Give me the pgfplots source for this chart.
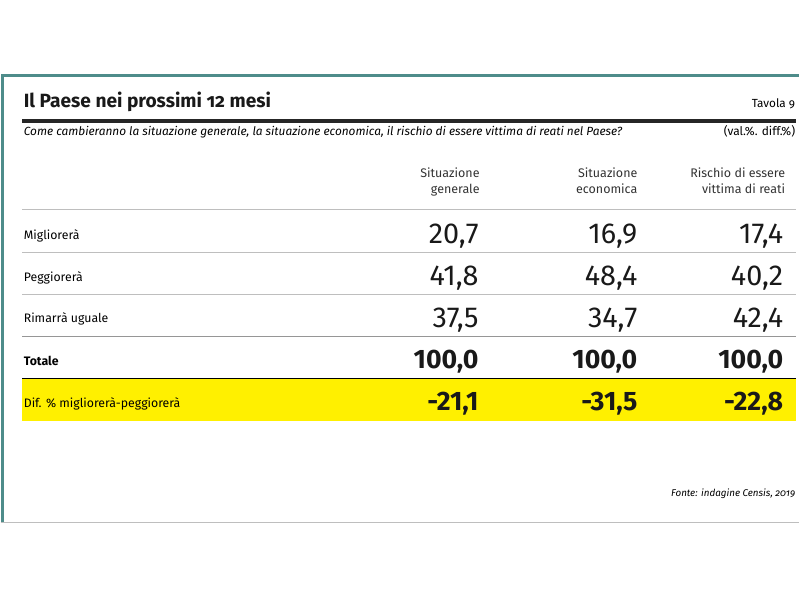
\documentclass[border=0pt]{standalone}
\usepackage{pgfplots}
\pgfplotsset{compat=1.18}
\usepackage{pgfplotstable}
\usepackage{fontspec}
\setmainfont{Fira Sans}
\newfontfamily\oldfig[Numbers=OldStyle]{Fira Sans}
\definecolor{teal1}{RGB}{78,140,138}
\definecolor{yel}{RGB}{255,240,0}
\definecolor{gr}{RGB}{190,190,190}
\definecolor{gr2}{RGB}{150,150,150}

% x = right edge (px), y = baseline (px), v = value
\pgfplotstableread{
x y v
479 244 20.7
638 244 16.9
784 244 17.4
479 286 41.8
638 286 48.4
784 286 40.2
479 328 37.5
638 328 34.7
784 328 42.4
}\regular
\pgfplotstableread{
x y v
479 369 100.0
638 369 100.0
784 369 100.0
}\totale
\pgfplotstableread{
x y v
479 411 -21.1
638 411 -31.5
784 411 -22.8
}\diff

\tikzset{hd/.style={anchor=base east, inner sep=0, font=\fontsize{7.1}{8}\selectfont, text=black!80},
  rl/.style={anchor=base west, inner sep=0, font=\fontsize{7.0}{8}\selectfont}}

\begin{document}
\begin{tikzpicture}
\begin{axis}[
  width=16cm, height=12cm, scale only axis,
  xmin=0, xmax=800, ymin=0, ymax=600, y dir=reverse,
  hide axis, clip=false,
  /pgf/number format/assume math mode=true,
  /pgf/number format/.cd, use comma, fixed, fixed zerofill, precision=1, 1000 sep={},
]
\fill[white] (axis cs:0,0) rectangle (axis cs:800,600);
% frame
\fill[teal1] (axis cs:0,74) rectangle (axis cs:800,77);
\fill[teal1] (axis cs:0,74) rectangle (axis cs:3,523);
\draw[gr, line width=0.6pt] (axis cs:0,523) -- (axis cs:800,523);
% title
\node[anchor=base west, inner sep=0, font=\oldfig\fontsize{10.9}{13}\selectfont\bfseries, text=black!90] at (axis cs:23,108) {Il Paese nei prossimi 12 mesi};
\node[anchor=base east, inner sep=0, font=\oldfig\fontsize{6.7}{8}\selectfont] at (axis cs:796,108) {Tavola 9};
\fill[black!85] (axis cs:22,119) rectangle (axis cs:797,123);
\node[anchor=base west, inner sep=0, font=\fontsize{6.75}{8}\selectfont\itshape] at (axis cs:23,136) {Come cambieranno la situazione generale, la situazione economica, il rischio di essere vittima di reati nel Paese?};
\node[anchor=base east, inner sep=0, font=\fontsize{6.8}{8}\selectfont] at (axis cs:796,136) {(val.\%. diff.\%)};
% headers
\node[hd] at (axis cs:480,178) {Situazione};
\node[hd] at (axis cs:480,194) {generale};
\node[hd] at (axis cs:638,178) {Situazione};
\node[hd] at (axis cs:638,194) {economica};
\node[hd] at (axis cs:786,178) {Rischio di essere};
\node[hd] at (axis cs:786,194) {vittima di reati};
% rules
\draw[gr, line width=0.7pt] (axis cs:22,210) -- (axis cs:797,210);
\draw[gr, line width=0.7pt] (axis cs:22,253) -- (axis cs:797,253);
\draw[gr, line width=0.7pt] (axis cs:22,295) -- (axis cs:797,295);
\draw[gr2, line width=0.8pt] (axis cs:22,337) -- (axis cs:797,337);
\fill[yel] (axis cs:22,379) rectangle (axis cs:797,422);
\draw[black, line width=0.8pt] (axis cs:22,379) -- (axis cs:797,379);
% row labels
\node[rl] at (axis cs:23,240) {Migliorerà};
\node[rl] at (axis cs:23,282) {Peggiorerà};
\node[rl] at (axis cs:23,323) {Rimarrà uguale};
\node[rl, font=\fontsize{7.0}{8}\selectfont\bfseries] at (axis cs:23,366) {Totale};
\node[rl] at (axis cs:23,408) {Dif. \% migliorerà-peggiorerà};
% values
\addplot[draw=none, mark=none, nodes near coords, point meta=explicit,
  every node near coord/.style={anchor=base east, inner sep=0, font=\fontsize{16.4}{18}\selectfont, text=black!90}]
  table[x=x, y=y, meta=v] {\regular};
\addplot[draw=none, mark=none, nodes near coords, point meta=explicit,
  every node near coord/.style={anchor=base east, inner sep=0, font=\fontsize{15.2}{17}\selectfont\bfseries, text=black!90}]
  table[x=x, y=y, meta=v] {\totale};
\addplot[draw=none, mark=none, nodes near coords, point meta=explicit,
  every node near coord/.style={anchor=base east, inner sep=0, font=\fontsize{15.2}{17}\selectfont\bfseries, text=black!90}]
  table[x=x, y=y, meta=v] {\diff};
% source
\node[anchor=base east, inner sep=0, font=\oldfig\fontsize{5.6}{7}\selectfont\itshape] at (axis cs:796,497) {Fonte: indagine Censis, 2019};
\end{axis}
\end{tikzpicture}
\end{document}
